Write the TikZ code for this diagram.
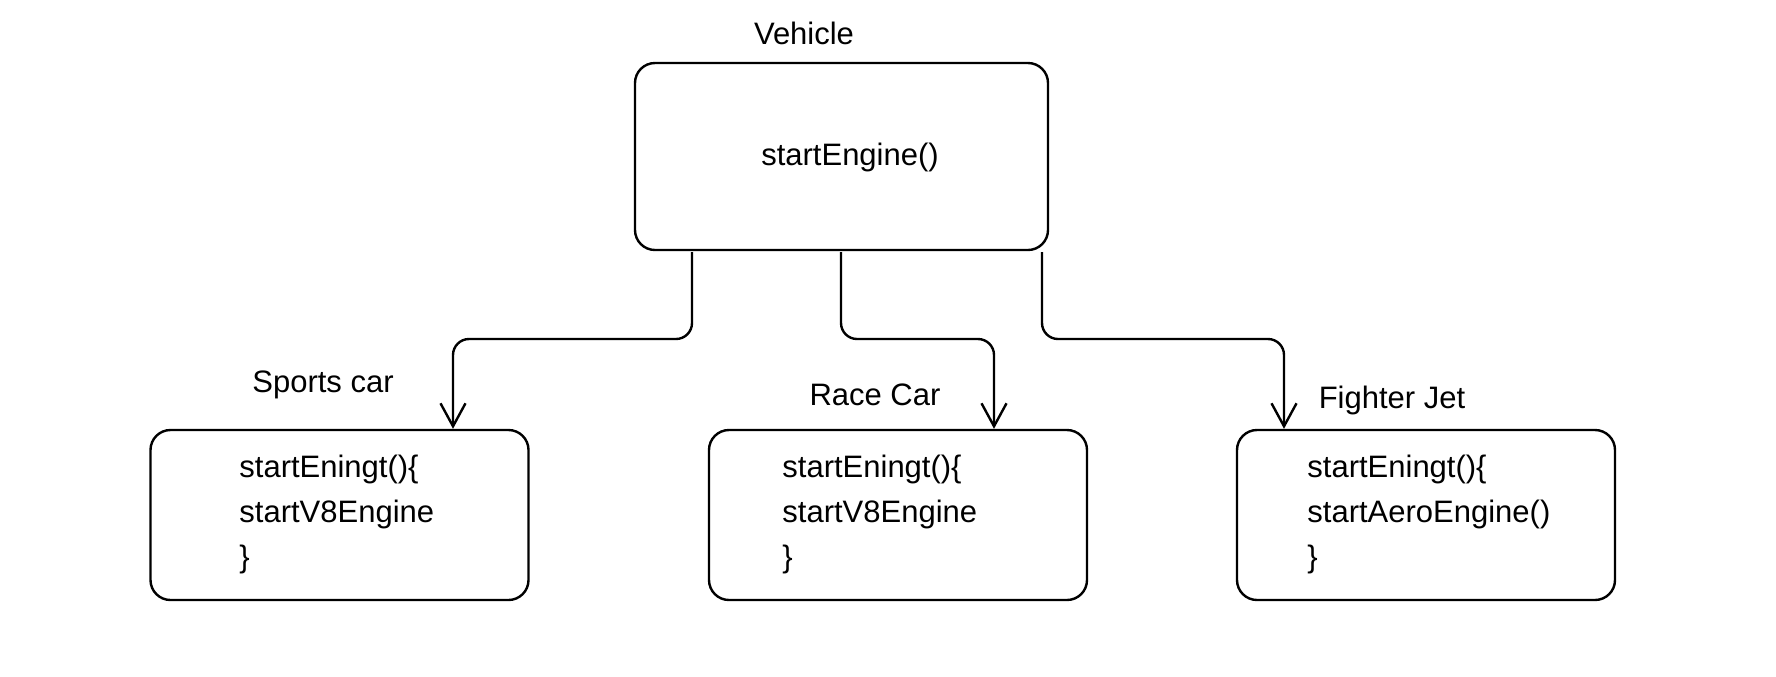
\documentclass[tikz,border=0pt]{standalone}
\usepackage{fontspec}
\setmainfont{Liberation Sans}
\usetikzlibrary{positioning,arrows.meta}

\begin{document}
\begin{tikzpicture}[x=0.5pt,y=-0.5pt,
      font=\fontsize{15.5}{22.5}\selectfont,
      cls/.style={draw,line width=1.2pt,rounded corners=10pt,minimum width=206.5pt,minimum height=93.5pt},
      sub/.style={draw,line width=1.2pt,rounded corners=10pt,minimum width=189pt,minimum height=85pt},
      code/.style={align=left,anchor=west,inner sep=0pt},
      lbl/.style={inner sep=0pt},
      conn/.style={line width=1.2pt,rounded corners=8pt,-{Straight Barb[length=11.5pt,width=12.5pt,line width=1.2pt]}}]
      \useasboundingbox (0,0) rectangle (1776,676);
      \node[lbl] (vehLbl) at (804,33) {Vehicle};
      \node[cls] (veh) at (841.5,156.5) {};
      \node[lbl] (vehTxt) at (850,157) {startEngine()};
      \node[sub] (sports) at (339.5,515) {};
      \node[sub] (race) at (898,515) {};
      \node[sub] (jet) at (1426,515) {};
      \node[code] (sportsCode) at (239,514) {startEningt()\{\\startV8Engine\\\}};
      \node[code] (raceCode) at (782,514) {startEningt()\{\\startV8Engine\\\}};
      \node[code] (jetCode) at (1307,514) {startEningt()\{\\startAeroEngine()\\\}};
      \node[lbl] (sportsLbl) at (323,385) {Sports car};
      \node[lbl] (raceLbl) at (875,395) {Race Car};
      \node[lbl] (jetLbl) at (1392,400) {Fighter Jet};
      \coordinate (v1) at (692,252);
      \coordinate (v2) at (841,252);
      \coordinate (v3) at (1042,252);
      \coordinate (b1) at (453,339);
      \coordinate (b2) at (994,339);
      \coordinate (b3) at (1284,339);
      \foreach \v/\b/\t in {v1/b1/sports,v2/b2/race,v3/b3/jet}
        \draw[conn] (\v) |- (\b) -- (\b |- \t.north);
    \end{tikzpicture}
\end{document}
